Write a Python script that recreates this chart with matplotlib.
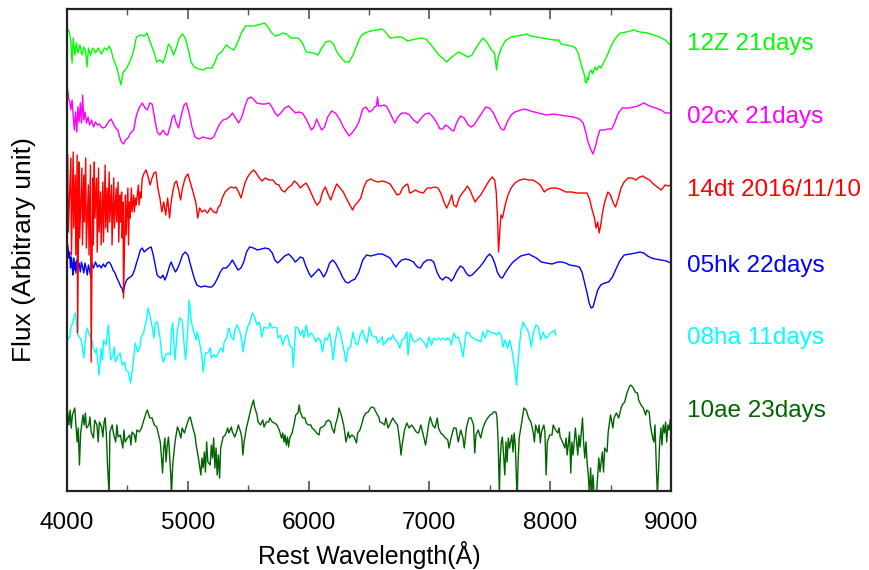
import numpy as np
import matplotlib
matplotlib.use("Agg")
import matplotlib.pyplot as plt
from matplotlib.ticker import MultipleLocator
import matplotlib.transforms as mtransforms

plt.rcParams["font.family"] = ["Liberation Sans", "DejaVu Sans"]

# spectra: (rest wavelength [A], flux [arbitrary, offset included])
sn12z = [
    (4006, 462), (4019, 459), (4032, 449), (4042, 428), (4052, 453), (4065, 436), (4078, 448),
    (4090, 438), (4107, 446), (4123, 436), (4139, 444), (4155, 439), (4165, 424), (4178, 443),
    (4194, 436), (4213, 443), (4236, 438), (4258, 443), (4284, 437), (4310, 443), (4333, 441),
    (4349, 445), (4365, 441), (4381, 433), (4413, 423), (4430, 414), (4446, 406), (4462, 418),
    (4494, 423), (4526, 431), (4549, 439), (4575, 454), (4607, 456), (4640, 455), (4662, 458),
    (4688, 449), (4720, 439), (4743, 429), (4769, 431), (4795, 428), (4817, 436), (4840, 447),
    (4859, 444), (4882, 436), (4904, 443), (4930, 453), (4956, 457), (4979, 453), (5001, 443),
    (5027, 429), (5053, 424), (5092, 422), (5124, 421), (5156, 423), (5198, 423), (5221, 428),
    (5247, 436), (5279, 439), (5318, 446), (5350, 443), (5382, 441), (5414, 449), (5447, 459),
    (5479, 465), (5544, 465), (5609, 467), (5634, 468), (5657, 465), (5689, 459), (5722, 455),
    (5754, 456), (5786, 458), (5818, 457), (5851, 453), (5915, 453), (5948, 448), (5980, 439),
    (6045, 438), (6077, 436), (6109, 443), (6141, 449), (6174, 450), (6206, 447), (6238, 438),
    (6271, 433), (6303, 429), (6335, 429), (6368, 436), (6400, 446), (6432, 455), (6464, 458),
    (6513, 460), (6561, 461), (6610, 462), (6642, 458), (6674, 453), (6739, 454), (6771, 454),
    (6820, 450), (6884, 452), (6933, 453), (6972, 452), (7014, 446), (7046, 441), (7078, 436),
    (7110, 433), (7143, 429), (7175, 433), (7207, 436), (7240, 439), (7272, 437), (7320, 434),
    (7353, 436), (7385, 443), (7417, 449), (7443, 453), (7475, 449), (7514, 441), (7539, 438),
    (7556, 421), (7569, 434), (7595, 443), (7627, 450), (7676, 454), (7724, 455), (7773, 456),
    (7805, 457), (7837, 455), (7886, 454), (7934, 453), (8031, 451), (8070, 451), (8089, 447),
    (8128, 446), (8176, 445), (8209, 443), (8231, 438), (8257, 426), (8283, 416), (8291, 409),
    (8299, 408), (8307, 414), (8315, 411), (8325, 419), (8338, 421), (8350, 417), (8370, 424),
    (8385, 421), (8402, 425), (8420, 423), (8435, 427), (8461, 433), (8483, 439), (8516, 448),
    (8548, 454), (8580, 458), (8629, 459), (8693, 461), (8742, 459), (8806, 458), (8855, 456),
    (8903, 454), (8952, 451), (8994, 446),
]

sn02cx = [
    (4006, 401), (4013, 393), (4023, 389), (4032, 381), (4042, 391), (4052, 374), (4061, 361),
    (4071, 379), (4081, 359), (4090, 384), (4100, 369), (4110, 388), (4120, 368), (4129, 396),
    (4139, 371), (4149, 379), (4162, 368), (4174, 374), (4187, 366), (4203, 371), (4220, 364),
    (4236, 369), (4252, 366), (4268, 367), (4284, 364), (4300, 363), (4317, 364), (4333, 367),
    (4349, 370), (4365, 372), (4381, 368), (4397, 364), (4420, 361), (4439, 353), (4452, 349),
    (4468, 347), (4485, 351), (4504, 353), (4526, 358), (4552, 361), (4575, 376), (4601, 384),
    (4623, 388), (4646, 383), (4665, 381), (4685, 388), (4704, 387), (4724, 374), (4746, 359),
    (4769, 356), (4795, 361), (4814, 357), (4833, 356), (4853, 364), (4872, 374), (4888, 376),
    (4904, 368), (4924, 363), (4946, 376), (4969, 386), (4988, 388), (5011, 378), (5034, 364),
    (5059, 354), (5092, 352), (5124, 354), (5156, 353), (5189, 352), (5214, 354), (5240, 361),
    (5269, 368), (5292, 371), (5318, 372), (5344, 374), (5370, 378), (5395, 373), (5421, 368),
    (5447, 374), (5473, 385), (5495, 392), (5521, 394), (5544, 392), (5570, 388), (5609, 387),
    (5641, 387), (5673, 388), (5696, 384), (5722, 378), (5744, 375), (5770, 378), (5802, 383),
    (5835, 385), (5867, 381), (5890, 378), (5915, 379), (5948, 378), (5980, 372), (6003, 366),
    (6022, 361), (6045, 364), (6067, 372), (6087, 366), (6109, 361), (6132, 364), (6158, 374),
    (6190, 380), (6222, 378), (6255, 372), (6287, 364), (6319, 358), (6335, 355), (6358, 358),
    (6384, 362), (6416, 369), (6448, 382), (6474, 384), (6503, 379), (6529, 381), (6545, 384),
    (6561, 385), (6571, 394), (6578, 385), (6594, 385), (6626, 386), (6649, 384), (6674, 378),
    (6697, 372), (6713, 368), (6739, 374), (6771, 378), (6804, 378), (6836, 376), (6868, 371),
    (6901, 368), (6933, 373), (6965, 377), (6997, 378), (7030, 374), (7062, 368), (7088, 362),
    (7110, 362), (7133, 366), (7159, 364), (7182, 361), (7201, 360), (7224, 368), (7256, 375),
    (7288, 373), (7320, 366), (7346, 364), (7369, 366), (7401, 372), (7433, 378), (7466, 384),
    (7498, 383), (7530, 378), (7563, 369), (7595, 362), (7618, 361), (7643, 369), (7676, 376),
    (7708, 379), (7756, 381), (7789, 382), (7837, 380), (7902, 378), (7966, 376), (8031, 377),
    (8079, 376), (8128, 375), (8193, 374), (8241, 372), (8273, 368), (8296, 358), (8315, 348),
    (8338, 341), (8354, 337), (8373, 344), (8393, 354), (8412, 361), (8445, 361), (8477, 362),
    (8509, 362), (8532, 368), (8564, 378), (8596, 383), (8645, 383), (8693, 384), (8725, 385),
    (8774, 388), (8823, 385), (8871, 383), (8919, 381), (8952, 378), (9000, 378),
]

sn14dt = [
    (4006, 336), (4011, 259), (4032, 333), (4037, 236), (4051, 339), (4056, 263), (4068, 316),
    (4073, 236), (4084, 336), (4088, 158), (4100, 329), (4105, 253), (4123, 323), (4128, 246),
    (4139, 316), (4144, 269), (4155, 333), (4160, 243), (4177, 306), (4182, 236), (4194, 326),
    (4200, 129), (4213, 313), (4218, 246), (4226, 329), (4231, 273), (4245, 313), (4250, 239),
    (4261, 323), (4266, 259), (4278, 299), (4283, 246), (4297, 309), (4302, 249), (4316, 326),
    (4321, 263), (4332, 303), (4337, 259), (4349, 319), (4354, 269), (4368, 306), (4373, 246),
    (4387, 313), (4392, 263), (4407, 303), (4412, 269), (4423, 309), (4428, 249), (4439, 296),
    (4444, 269), (4452, 299), (4457, 253), (4464, 289), (4468, 193), (4484, 296), (4489, 256),
    (4504, 303), (4509, 246), (4517, 289), (4522, 273), (4533, 303), (4538, 279), (4552, 296),
    (4557, 279), (4568, 293), (4573, 286), (4591, 306), (4596, 286), (4607, 299), (4612, 293),
    (4623, 313), (4639, 318), (4655, 321), (4672, 314), (4688, 306), (4704, 313), (4720, 318),
    (4736, 319), (4752, 303), (4769, 293), (4785, 279), (4801, 289), (4817, 276), (4833, 293),
    (4849, 273), (4859, 286), (4875, 299), (4891, 308), (4907, 310), (4924, 301), (4940, 291),
    (4956, 303), (4978, 313), (5001, 317), (5020, 309), (5043, 299), (5066, 289), (5082, 273),
    (5098, 283), (5117, 279), (5140, 281), (5163, 278), (5188, 283), (5214, 279), (5237, 278),
    (5253, 284), (5269, 286), (5285, 293), (5308, 299), (5334, 302), (5356, 304), (5382, 303),
    (5398, 304), (5421, 299), (5440, 293), (5453, 299), (5473, 308), (5495, 314), (5518, 318),
    (5544, 321), (5560, 319), (5592, 313), (5615, 310), (5641, 313), (5673, 311), (5705, 311),
    (5731, 307), (5754, 306), (5776, 301), (5802, 299), (5828, 303), (5860, 306), (5883, 310),
    (5909, 307), (5931, 303), (5957, 306), (5980, 308), (6002, 303), (6028, 296), (6054, 289),
    (6070, 286), (6093, 289), (6115, 299), (6138, 304), (6164, 296), (6183, 291), (6206, 299),
    (6232, 307), (6261, 303), (6287, 299), (6319, 291), (6342, 286), (6364, 281), (6384, 286),
    (6409, 289), (6432, 293), (6455, 303), (6480, 310), (6513, 312), (6545, 310), (6577, 309),
    (6610, 310), (6642, 309), (6674, 307), (6707, 301), (6732, 296), (6755, 297), (6778, 303),
    (6803, 306), (6820, 307), (6836, 298), (6858, 299), (6884, 301), (6916, 299), (6949, 298),
    (6981, 303), (7013, 303), (7046, 304), (7071, 303), (7094, 298), (7120, 289), (7143, 283),
    (7165, 289), (7185, 296), (7201, 286), (7223, 284), (7246, 293), (7272, 298), (7294, 301),
    (7314, 305), (7336, 301), (7359, 294), (7378, 289), (7401, 293), (7424, 296), (7449, 301),
    (7475, 306), (7498, 311), (7521, 314), (7540, 311), (7553, 299), (7566, 266), (7572, 239),
    (7582, 259), (7592, 276), (7605, 273), (7627, 286), (7650, 296), (7676, 303), (7708, 308),
    (7747, 311), (7789, 312), (7821, 311), (7853, 311), (7885, 309), (7918, 306), (7950, 299),
    (7982, 302), (8015, 303), (8047, 303), (8079, 302), (8128, 299), (8176, 299), (8225, 298),
    (8273, 298), (8305, 298), (8328, 291), (8347, 281), (8364, 274), (8380, 263), (8393, 269),
    (8405, 258), (8418, 266), (8434, 279), (8451, 289), (8477, 299), (8499, 296), (8522, 288),
    (8541, 284), (8564, 293), (8586, 303), (8612, 309), (8645, 313), (8677, 313), (8709, 311),
    (8741, 314), (8767, 315), (8790, 313), (8822, 311), (8854, 307), (8887, 304), (8919, 301),
    (8951, 306), (8984, 305), (9000, 307),
]

sn05hk = [
    (4003, 248), (4009, 243), (4016, 233), (4022, 239), (4029, 223), (4035, 234), (4042, 226),
    (4048, 216), (4055, 233), (4061, 221), (4068, 229), (4074, 218), (4081, 231), (4090, 223),
    (4100, 228), (4110, 219), (4119, 229), (4129, 224), (4139, 218), (4148, 228), (4158, 223),
    (4168, 216), (4177, 226), (4187, 221), (4197, 214), (4206, 228), (4219, 223), (4236, 229),
    (4252, 224), (4268, 226), (4284, 223), (4300, 227), (4316, 224), (4332, 228), (4349, 229),
    (4365, 226), (4381, 221), (4397, 218), (4413, 213), (4429, 209), (4446, 204), (4455, 203),
    (4465, 198), (4478, 206), (4494, 211), (4510, 213), (4526, 214), (4542, 216), (4559, 221),
    (4575, 228), (4591, 234), (4607, 241), (4623, 243), (4639, 239), (4655, 241), (4678, 243),
    (4697, 244), (4714, 236), (4730, 226), (4746, 216), (4762, 214), (4778, 213), (4794, 216),
    (4810, 211), (4827, 216), (4846, 224), (4862, 229), (4878, 224), (4898, 219), (4917, 223),
    (4936, 229), (4956, 236), (4978, 239), (5001, 236), (5027, 224), (5053, 213), (5075, 206),
    (5108, 204), (5140, 205), (5172, 204), (5198, 204), (5221, 207), (5247, 213), (5269, 219),
    (5292, 223), (5318, 223), (5343, 226), (5369, 231), (5392, 226), (5415, 221), (5440, 223),
    (5463, 229), (5486, 239), (5511, 244), (5544, 243), (5576, 241), (5608, 242), (5641, 243),
    (5673, 242), (5699, 238), (5721, 231), (5744, 228), (5770, 231), (5802, 235), (5834, 237),
    (5867, 233), (5889, 229), (5909, 231), (5931, 234), (5954, 233), (5980, 224), (6002, 218),
    (6022, 214), (6038, 216), (6061, 219), (6083, 222), (6102, 219), (6125, 214), (6148, 219),
    (6174, 228), (6199, 231), (6222, 228), (6254, 221), (6280, 214), (6306, 209), (6329, 208),
    (6351, 210), (6384, 212), (6416, 219), (6448, 231), (6480, 236), (6513, 235), (6545, 236),
    (6577, 237), (6610, 237), (6642, 235), (6674, 233), (6700, 228), (6723, 224), (6745, 228),
    (6771, 231), (6803, 232), (6836, 231), (6868, 229), (6900, 224), (6926, 223), (6949, 228),
    (6981, 231), (7013, 231), (7036, 229), (7062, 219), (7088, 213), (7110, 211), (7133, 214),
    (7159, 213), (7181, 210), (7201, 213), (7223, 219), (7256, 225), (7281, 223), (7304, 218),
    (7327, 215), (7353, 216), (7385, 220), (7417, 224), (7449, 229), (7475, 234), (7498, 237),
    (7520, 234), (7540, 228), (7562, 219), (7585, 214), (7604, 213), (7627, 218), (7659, 224),
    (7692, 229), (7724, 232), (7756, 235), (7789, 236), (7821, 237), (7853, 235), (7885, 233),
    (7927, 229), (7966, 228), (8015, 227), (8063, 229), (8095, 229), (8128, 228), (8160, 226),
    (8208, 225), (8241, 224), (8263, 219), (8283, 209), (8305, 198), (8322, 188), (8338, 183),
    (8354, 184), (8370, 191), (8393, 201), (8418, 206), (8451, 208), (8483, 209), (8515, 214),
    (8548, 223), (8580, 231), (8612, 236), (8661, 237), (8709, 238), (8741, 239), (8774, 238),
    (8806, 235), (8838, 233), (8871, 232), (8919, 231), (8961, 230), (9000, 228),
]

sn08ha = [
    (4003, 151), (4022, 154), (4032, 164), (4051, 169), (4061, 176), (4071, 178), (4084, 158),
    (4100, 154), (4119, 151), (4139, 133), (4158, 158), (4168, 163), (4187, 156), (4206, 151),
    (4216, 143), (4236, 138), (4245, 143), (4265, 116), (4284, 143), (4294, 131), (4303, 151),
    (4323, 146), (4342, 166), (4361, 131), (4381, 136), (4391, 144), (4400, 129), (4420, 134),
    (4439, 138), (4458, 126), (4478, 129), (4487, 121), (4507, 119), (4526, 108), (4546, 126),
    (4565, 148), (4584, 139), (4604, 144), (4613, 154), (4633, 158), (4652, 168), (4672, 183),
    (4691, 173), (4710, 161), (4720, 153), (4730, 168), (4749, 169), (4769, 154), (4788, 133),
    (4798, 129), (4817, 136), (4836, 138), (4856, 136), (4865, 161), (4875, 168), (4894, 131),
    (4914, 161), (4933, 173), (4953, 171), (4972, 143), (4982, 131), (5001, 164), (5011, 191),
    (5030, 169), (5050, 159), (5069, 151), (5079, 159), (5098, 148), (5117, 134), (5127, 119),
    (5146, 138), (5166, 138), (5185, 143), (5195, 133), (5214, 136), (5234, 134), (5253, 138),
    (5272, 143), (5292, 139), (5301, 149), (5321, 153), (5340, 163), (5360, 154), (5379, 151),
    (5389, 161), (5408, 166), (5427, 161), (5447, 151), (5456, 139), (5476, 154), (5495, 164),
    (5515, 169), (5534, 178), (5553, 174), (5573, 166), (5592, 169), (5612, 154), (5631, 164),
    (5650, 163), (5670, 163), (5679, 168), (5699, 163), (5718, 164), (5738, 163), (5747, 153),
    (5767, 156), (5786, 146), (5805, 154), (5825, 156), (5844, 146), (5863, 143), (5873, 124),
    (5893, 164), (5912, 163), (5931, 156), (5951, 161), (5960, 153), (5980, 166), (5999, 154),
    (6019, 158), (6038, 156), (6057, 149), (6077, 153), (6096, 151), (6115, 139), (6135, 153),
    (6154, 151), (6174, 158), (6193, 143), (6203, 131), (6222, 151), (6241, 164), (6261, 159),
    (6280, 148), (6300, 136), (6309, 129), (6329, 143), (6348, 144), (6367, 159), (6387, 148),
    (6406, 146), (6426, 156), (6445, 161), (6464, 153), (6484, 148), (6503, 164), (6522, 156),
    (6542, 154), (6561, 154), (6571, 148), (6590, 151), (6610, 154), (6619, 146), (6639, 149),
    (6658, 153), (6677, 151), (6697, 156), (6716, 151), (6736, 149), (6755, 143), (6774, 151),
    (6794, 153), (6813, 159), (6823, 136), (6842, 158), (6862, 151), (6881, 149), (6900, 151),
    (6920, 153), (6939, 151), (6959, 148), (6978, 143), (6997, 154), (7017, 146), (7036, 153),
    (7055, 151), (7075, 153), (7094, 151), (7113, 153), (7133, 151), (7152, 153), (7172, 151),
    (7181, 146), (7201, 158), (7220, 153), (7239, 154), (7259, 146), (7278, 134), (7298, 154),
    (7307, 159), (7327, 158), (7346, 154), (7365, 153), (7385, 151), (7404, 151), (7424, 149),
    (7443, 159), (7462, 153), (7482, 161), (7501, 159), (7520, 158), (7540, 158), (7559, 156),
    (7579, 159), (7598, 154), (7608, 144), (7627, 151), (7646, 143), (7666, 151), (7685, 139),
    (7705, 124), (7721, 106), (7737, 134), (7756, 159), (7776, 169), (7795, 164), (7814, 161),
    (7834, 151), (7843, 144), (7863, 159), (7882, 166), (7902, 164), (7921, 151), (7940, 159),
    (7960, 153), (7979, 154), (7999, 158), (8018, 159), (8037, 161), (8047, 156),
]

sn10ae = [
    (4006, 79), (4016, 66), (4026, 81), (4035, 63), (4045, 76), (4064, 83), (4084, 49),
    (4093, 63), (4103, 26), (4113, 58), (4132, 76), (4142, 66), (4152, 78), (4161, 63),
    (4181, 66), (4190, 74), (4200, 59), (4219, 53), (4229, 71), (4248, 66), (4258, 49),
    (4268, 69), (4287, 64), (4297, 54), (4307, 69), (4316, 73), (4326, 56), (4336, 24),
    (4349, -4), (4355, 59), (4374, 66), (4384, 58), (4403, 49), (4413, 66), (4423, 54),
    (4442, 56), (4462, 43), (4471, 61), (4481, 49), (4500, 53), (4520, 56), (4529, 46),
    (4539, 59), (4559, 56), (4568, 49), (4578, 61), (4597, 59), (4617, 63), (4636, 71),
    (4655, 78), (4665, 81), (4685, 73), (4704, 73), (4723, 66), (4743, 64), (4762, 54),
    (4772, 49), (4781, 36), (4791, 18), (4801, 43), (4810, 53), (4820, 29), (4830, 46),
    (4840, 54), (4849, 36), (4859, 16), (4865, -4), (4875, 26), (4885, 38), (4894, 49),
    (4914, 64), (4924, 61), (4943, 53), (4953, 63), (4972, 58), (4991, 66), (5011, 73),
    (5020, 74), (5040, 64), (5059, 56), (5069, 46), (5088, 33), (5108, 16), (5117, 33),
    (5127, 23), (5137, 39), (5146, 19), (5156, 49), (5166, 29), (5185, 26), (5195, 46),
    (5205, 33), (5214, 53), (5224, 23), (5234, 43), (5243, 16), (5253, 36), (5263, 13),
    (5272, 43), (5292, 54), (5311, 56), (5330, 63), (5340, 58), (5360, 64), (5369, 59),
    (5389, 54), (5408, 61), (5418, 66), (5437, 59), (5447, 53), (5456, 36), (5466, 49),
    (5485, 63), (5505, 73), (5524, 83), (5544, 91), (5553, 84), (5573, 76), (5582, 69),
    (5602, 66), (5621, 71), (5631, 64), (5650, 69), (5670, 69), (5679, 73), (5699, 69),
    (5718, 68), (5738, 66), (5757, 61), (5776, 53), (5786, 58), (5796, 49), (5805, 56),
    (5815, 46), (5825, 54), (5834, 44), (5844, 53), (5863, 58), (5883, 69), (5893, 76),
    (5912, 78), (5922, 86), (5931, 79), (5951, 73), (5970, 73), (5980, 68), (5999, 66),
    (6019, 66), (6028, 63), (6048, 61), (6067, 58), (6086, 56), (6096, 63), (6115, 64),
    (6135, 66), (6144, 69), (6164, 71), (6183, 69), (6193, 63), (6212, 58), (6222, 66),
    (6241, 74), (6251, 83), (6270, 76), (6290, 66), (6300, 58), (6309, 49), (6329, 59),
    (6338, 53), (6358, 56), (6377, 54), (6396, 48), (6406, 58), (6425, 61), (6445, 69),
    (6455, 74), (6474, 78), (6493, 79), (6513, 83), (6522, 84), (6542, 83), (6561, 78),
    (6581, 74), (6590, 69), (6610, 68), (6629, 66), (6639, 73), (6658, 63), (6677, 68),
    (6697, 73), (6716, 69), (6736, 66), (6755, 49), (6765, 36), (6774, 46), (6794, 61),
    (6813, 68), (6832, 63), (6852, 66), (6871, 63), (6891, 59), (6910, 58), (6929, 66),
    (6949, 56), (6968, 46), (6978, 54), (6997, 69), (7007, 74), (7026, 66), (7046, 63),
    (7065, 73), (7075, 63), (7094, 58), (7113, 56), (7133, 53), (7152, 51), (7162, 43),
    (7181, 54), (7201, 63), (7220, 63), (7239, 49), (7259, 61), (7278, 53), (7288, 43),
    (7307, 64), (7327, 73), (7346, 73), (7365, 66), (7375, 38), (7385, 56), (7404, 61),
    (7424, 53), (7443, 63), (7462, 69), (7482, 73), (7501, 76), (7520, 77), (7530, 79),
    (7550, 79), (7559, 74), (7569, 49), (7579, -4), (7585, 29), (7595, 49), (7604, 54),
    (7614, 36), (7624, 16), (7634, 49), (7643, 29), (7653, 53), (7663, 43), (7682, 56),
    (7692, 39), (7701, 58), (7711, 46), (7721, 9), (7727, -4), (7734, 29), (7743, 53),
    (7763, 68), (7782, 83), (7801, 81), (7821, 73), (7840, 69), (7860, 58), (7869, 49),
    (7879, 66), (7898, 58), (7908, 66), (7918, 48), (7927, 59), (7947, 66), (7956, 59),
    (7966, 16), (7976, 49), (7995, 56), (8015, 56), (8024, 66), (8044, 61), (8063, 58),
    (8073, 63), (8082, 54), (8102, 49), (8121, 43), (8131, 53), (8140, 36), (8160, 59),
    (8170, 18), (8179, 49), (8189, 36), (8208, 63), (8228, 36), (8237, 56), (8247, 44),
    (8267, 73), (8276, 49), (8286, 33), (8296, 49), (8305, 29), (8315, 16), (8325, -4),
    (8334, 23), (8344, -4), (8354, 16), (8364, -4), (8383, -4), (8393, 16), (8402, 33),
    (8412, 19), (8431, 39), (8441, 19), (8451, 43), (8470, 39), (8480, 59), (8499, 76),
    (8519, 63), (8528, 73), (8548, 78), (8567, 73), (8587, 83), (8596, 86), (8616, 89),
    (8635, 98), (8654, 104), (8664, 106), (8683, 104), (8703, 99), (8722, 98), (8732, 91),
    (8751, 86), (8770, 83), (8790, 76), (8799, 81), (8819, 79), (8829, 66), (8848, 53),
    (8858, 49), (8867, 66), (8877, 29), (8887, -4), (8896, 19), (8906, 49), (8916, 63),
    (8925, 46), (8935, 66), (8945, 58), (8955, 69), (8964, 49), (8974, 66), (8984, 61),
    (8993, 71),
]

names = ["10ae 23days", "08ha 11days", "05hk 22days", "14dt 2016/11/10", "02cx 21days", "12Z 21days"]
spectra = [sn10ae, sn08ha, sn05hk, sn14dt, sn02cx, sn12z]
colors = ["#006400", "#00ffff", "#0000ff", "#ff0000", "#ff00ff", "#00ff00"]
label_flux = [80, 153, 225, 301, 374, 447]

fig = plt.figure(figsize=(8.69, 5.70), dpi=100)
ax = fig.add_axes([0.0771, 0.1386, 0.6951, 0.8456])

for spec, c in zip(spectra, colors):
    wl, fx = np.array(spec, dtype=float).T
    ax.plot(wl, fx, color=c, lw=1.0)

trans = mtransforms.blended_transform_factory(ax.transAxes, ax.transData)
for name, c, yf in zip(names, colors, label_flux):
    ax.text(1.026, yf, name, color=c, fontsize=17.5, va="center", ha="left",
            transform=trans, clip_on=False)

ax.set_xlim(4000, 9000)
ax.set_ylim(0, 482)
ax.set_yticks([])
ax.xaxis.set_major_locator(MultipleLocator(1000))
ax.xaxis.set_minor_locator(MultipleLocator(500))
ax.tick_params(axis="x", which="both", direction="in", top=True, colors="#555555",
               labelcolor="black", labelsize=17.5, pad=15)
ax.tick_params(axis="x", which="major", length=7, width=1.2)
ax.tick_params(axis="x", which="minor", length=4, width=1.0)
for s in ax.spines.values():
    s.set_linewidth(1.6)
    s.set_color("#222222")

ax.set_xlabel("Rest Wavelength(Å)", fontsize=18, labelpad=5)
ax.set_ylabel("Flux (Arbitrary unit)", fontsize=19, labelpad=22)

fig.savefig("out.png", dpi=100)
